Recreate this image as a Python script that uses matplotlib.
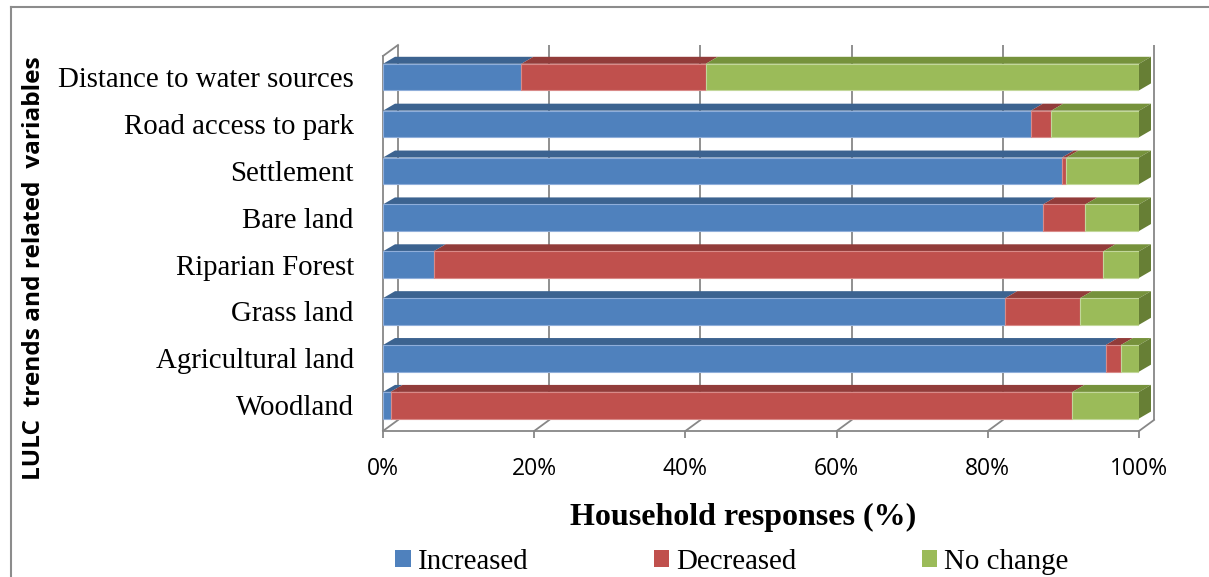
import matplotlib
matplotlib.use("Agg")
import matplotlib.pyplot as plt
from matplotlib.patches import Polygon, Patch
from matplotlib.lines import Line2D
import numpy as np

# Survey results (% of households), listed bottom to top
categories = ["Woodland", "Agricultural land", "Grass land", "Riparian Forest",
              "Bare land", "Settlement", "Road access to park",
              "Distance to water sources"]
increased = [1.0, 95.6, 82.3, 6.7, 87.3, 89.8, 85.7, 18.3]
decreased = [90.2, 2.0, 9.9, 88.6, 5.6, 0.6, 2.7, 24.4]
no_change = [8.8, 2.4, 7.8, 4.7, 7.1, 9.6, 11.6, 57.3]
series_names = ["Increased", "Decreased", "No change"]
xticks = [0, 20, 40, 60, 80, 100]

front_cols = ["#4F81BD", "#C0504D", "#9BBB59"]
top_cols = ["#3C6390", "#923C3A", "#76923C"]
side_col = "#677F35"
edge_cols = ["#8FAEDA", "#D98A88", "#C2D79A"]
grid_col = "#878787"

W, H = 1209, 577
fig = plt.figure(figsize=(W / 100, H / 100), dpi=100)

# plot area in pixels (front plane)
px_l, px_r, px_top, px_bot = 383, 1139, 56, 431
ax = fig.add_axes([px_l / W, 1 - px_bot / H, (px_r - px_l) / W, (px_bot - px_top) / H])
y0, y1 = -0.55, 7.45
ax.set_xlim(0, 100)
ax.set_ylim(y0, y1)

sx = (px_r - px_l) / 100.0          # px per %
sy = (px_bot - px_top) / (y1 - y0)  # px per category unit

# depth offsets (data units)
bdx, bdy = 12 / sx, 7 / sy      # bars
wdx, wdy = 15 / sx, 11 / sy     # walls / floor

# back wall gridlines and floor
for v in xticks:
    ax.plot([v + wdx, v + wdx], [y0 + wdy, y1 + wdy], color=grid_col, lw=1.3,
            clip_on=False, zorder=1, solid_capstyle="butt")
    ax.plot([v, v + wdx], [y0, y0 + wdy], color=grid_col, lw=1.3,
            clip_on=False, zorder=1)
# left wall top edge
ax.plot([0, wdx], [y1, y1 + wdy], color=grid_col, lw=1.3, clip_on=False, zorder=1)

# stacked bars
bar_h = 26.6 / sy
ypos = np.arange(len(categories))
series = [increased, decreased, no_change]
left = np.zeros(len(categories))
for s, vals in enumerate(series):
    vals = np.asarray(vals, dtype=float)
    ax.barh(ypos, vals, left=left, height=bar_h, color=front_cols[s],
            edgecolor=edge_cols[s], linewidth=0.8, zorder=3)
    for yi, x0, w in zip(ypos, left, vals):
        if w <= 0:
            continue
        yt = yi + bar_h / 2
        top = Polygon([(x0, yt), (x0 + w, yt), (x0 + w + bdx, yt + bdy),
                       (x0 + bdx, yt + bdy)], closed=True, facecolor=top_cols[s],
                      edgecolor="none", zorder=2.9, clip_on=False)
        ax.add_patch(top)
    left = left + vals

# right end faces
for yi, total in zip(ypos, left):
    yb, yt = yi - bar_h / 2, yi + bar_h / 2
    side = Polygon([(total, yb), (total, yt), (total + bdx, yt + bdy),
                    (total + bdx, yb + bdy)], closed=True, facecolor=side_col,
                   edgecolor="none", zorder=3.1, clip_on=False)
    ax.add_patch(side)

# axes styling
for sp in ["top", "right"]:
    ax.spines[sp].set_visible(False)
for sp in ["bottom", "left"]:
    ax.spines[sp].set_color(grid_col)
    ax.spines[sp].set_linewidth(1.3)
ax.set_xticks(xticks)
ax.set_xticklabels([f"{v}%" for v in xticks], fontfamily="Open Sans", fontsize=16.5)
ax.tick_params(axis="x", length=5, width=1.3, color=grid_col, pad=13.5)
ax.set_yticks(ypos)
ax.set_yticklabels(categories, fontfamily="Liberation Serif", fontsize=20.8)
ax.tick_params(axis="y", length=0, pad=21)
ax.patch.set_alpha(0)

# titles
fig.text(743 / W, 1 - 517 / H, "Household responses (%)", ha="center", va="center",
         fontfamily="Liberation Serif", fontweight="bold", fontsize=23)
fig.text(34 / W, 1 - 268 / H, "LULC  trends and related  variables", rotation=90,
         ha="center", va="center", fontfamily="Open Sans", fontweight="bold",
         fontsize=17.6)

# legend
handles = [Patch(facecolor=c, edgecolor="none") for c in front_cols]
fig.legend(handles, series_names, loc="center", bbox_to_anchor=(732 / W, 1 - 562 / H),
           ncol=3, frameon=False, prop={"family": "Liberation Serif", "size": 20.8},
           handlelength=0.52, handleheight=0.52, handletextpad=0.24,
           columnspacing=4.36, borderpad=0, borderaxespad=0)

# outer chart border
fig.add_artist(Line2D([11 / W, 11 / W], [0, 1 - 7 / H], color="#8C8C8C", lw=1.5,
                      transform=fig.transFigure))
fig.add_artist(Line2D([11 / W, 1], [1 - 7 / H, 1 - 7 / H], color="#8C8C8C", lw=1.5,
                      transform=fig.transFigure))

fig.savefig("out.png", dpi=100)
